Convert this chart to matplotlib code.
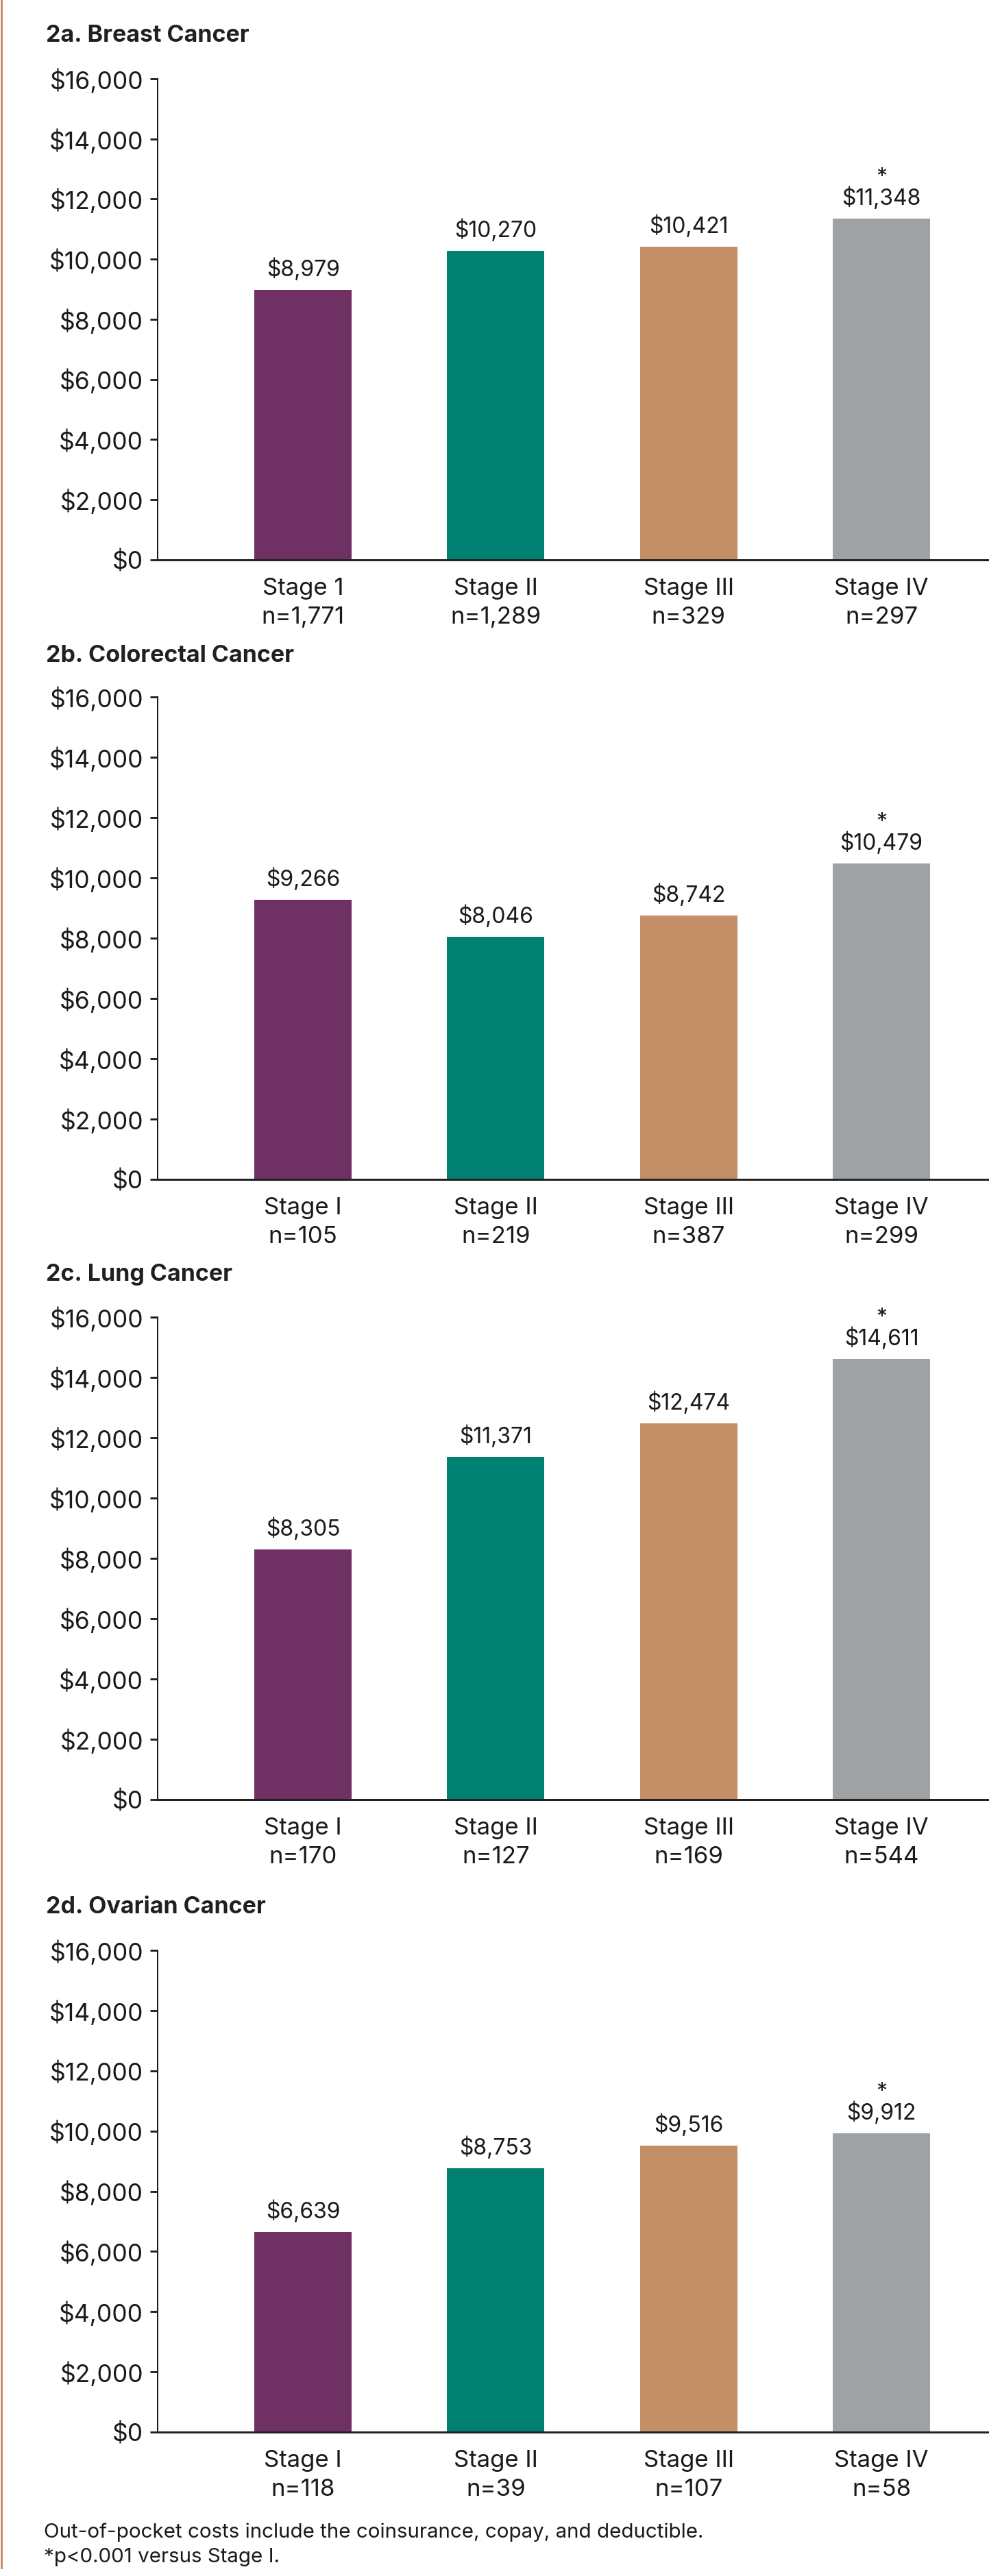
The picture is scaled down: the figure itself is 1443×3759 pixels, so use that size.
import matplotlib
matplotlib.use("Agg")
import matplotlib.pyplot as plt
from matplotlib.lines import Line2D
from matplotlib.ticker import FuncFormatter

plt.rcParams['font.family'] = ['Inter', 'DejaVu Sans']

# ---------------- data ----------------
panel_titles = ["2a. Breast Cancer", "2b. Colorectal Cancer", "2c. Lung Cancer", "2d. Ovarian Cancer"]
breast_stages = ["Stage 1", "Stage II", "Stage III", "Stage IV"]
other_stages = ["Stage I", "Stage II", "Stage III", "Stage IV"]
breast_n = [1771, 1289, 329, 297]
colorectal_n = [105, 219, 387, 299]
lung_n = [170, 127, 169, 544]
ovarian_n = [118, 39, 107, 58]
breast_cost = [8979, 10270, 10421, 11348]
colorectal_cost = [9266, 8046, 8742, 10479]
lung_cost = [8305, 11371, 12474, 14611]
ovarian_cost = [6639, 8753, 9516, 9912]
significant = [False, False, False, True]
y_ticks = [0, 2000, 4000, 6000, 8000, 10000, 12000, 14000, 16000]
footnotes = ["Out-of-pocket costs include the coinsurance, copay, and deductible.",
             "*p<0.001 versus Stage I."]

panels = [
    (panel_titles[0], breast_stages, breast_n, breast_cost),
    (panel_titles[1], other_stages, colorectal_n, colorectal_cost),
    (panel_titles[2], other_stages, lung_n, lung_cost),
    (panel_titles[3], other_stages, ovarian_n, ovarian_cost),
]

# ---------------- style ----------------
bar_colors = ["#6F3163", "#008070", "#C48E66", "#9EA2A5"]
text_color = "#1A1A1A"
W, H = 1443, 3759
DPI = 100
fig = plt.figure(figsize=(W / DPI, H / DPI), dpi=DPI)
fig.patch.set_facecolor("white")

# axes vertical extents in pixels (top of $16,000, bottom of $0)
axes_px = [(115, 817), (1017, 1721), (1922, 2626), (2846, 3549)]
title_y_px = [52, 957, 1860, 2783]
ax_left_px, ax_right_px = 230, 1443

px2pt = 72.0 / DPI

for (title, stages, ns, costs), (top, bot), ty in zip(panels, axes_px, title_y_px):
    ax = fig.add_axes([ax_left_px / W, 1 - bot / H, (ax_right_px - ax_left_px) / W, (bot - top) / H])
    x = list(range(len(costs)))
    ax.bar(x, costs, width=0.505, color=bar_colors, zorder=2)
    ax.set_xlim(-0.754, 3.558)
    ax.set_ylim(0, 16000)
    ax.set_yticks(y_ticks)
    ax.yaxis.set_major_formatter(FuncFormatter(lambda v, p: "${:,.0f}".format(v)))
    ax.tick_params(axis="y", length=8, width=2, pad=7, labelsize=25.5, colors=text_color)
    ax.set_xticks(x)
    ax.set_xticklabels([f"{s}\nn={n:,}" for s, n in zip(stages, ns)], linespacing=1.4)
    ax.tick_params(axis="x", length=0, pad=19, labelsize=25, colors=text_color)
    for sp in ["top", "right"]:
        ax.spines[sp].set_visible(False)
    ax.spines["left"].set_linewidth(2 * px2pt)
    ax.spines["bottom"].set_linewidth(3 * px2pt)
    ax.spines["left"].set_color(text_color)
    ax.spines["bottom"].set_color("#222222")
    for xi, v, sig in zip(x, costs, significant):
        ax.annotate("${:,}".format(v), (xi, v), xytext=(0, 20 * px2pt), textcoords="offset points",
                    ha="center", va="baseline", fontsize=23, color=text_color)
        if sig:
            ax.annotate("*", (xi, v), xytext=(0, 51 * px2pt), textcoords="offset points",
                        ha="center", va="baseline", fontsize=23, color=text_color)
    fig.text(67 / W, 1 - ty / H, title, ha="left", va="center", fontsize=24.5,
             fontweight="bold", color="#231F20")

for i, line in enumerate(footnotes):
    fig.text(64 / W, 1 - (3695 + 36 * i) / H, line, ha="left", va="center",
             fontsize=21.3, color=text_color)

# orange rule on the left edge
fig.add_artist(Line2D([1.5 / W, 1.5 / W], [1 - 0 / H, 1 - 3747 / H], transform=fig.transFigure,
                      color="#C98C6E", linewidth=3 * px2pt))

fig.savefig("out.png", dpi=DPI, facecolor="white")
